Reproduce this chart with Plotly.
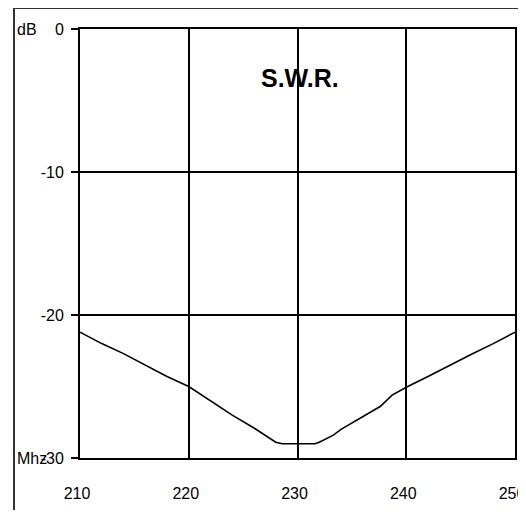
import plotly.graph_objects as go

freq_mhz = [210, 212, 214, 216, 218, 220, 222, 224, 226, 228, 228.6, 231.6, 232, 233.3, 234, 236, 237.6, 238.7, 240, 242, 244, 246, 248, 250]
swr_db = [-21.2, -22.0, -22.7, -23.5, -24.3, -25.0, -26.0, -27.0, -27.9, -28.9, -29.0, -29.0, -28.9, -28.4, -28.0, -27.1, -26.4, -25.6, -25.05, -24.3, -23.5, -22.75, -22.0, -21.2]

x_ticks = [210, 220, 230, 240, 250]
y_ticks = [0, -10, -20, -30]
y_tick_labels = ["0", "-10", "-20", "-30"]
title_text = "S.W.R."
y_unit = "dB"
x_unit = "Mhz"

# page body has an 8px margin, so the figure starts at (8, 8) in the window;
# keep the figure small enough that no scrollbars appear
OFF = 8
W, H = 526 - 2 * OFF, 518 - 2 * OFF
plot_left, plot_right, plot_top, plot_bottom = 80, 515, 29, 458
L = plot_left - OFF
R = W - (plot_right - OFF)
T = plot_top - OFF
B = H - (plot_bottom - OFF)
pw, ph = W - L - R, H - T - B

def px(x):
    return (x - OFF - L) / pw

def py(y):
    return (H - B - (y - OFF)) / ph

fig = go.Figure()
fig.add_trace(go.Scatter(x=freq_mhz, y=swr_db, mode="lines",
                         line=dict(color="black", width=1.6), hoverinfo="skip"))

font = dict(family="Liberation Sans, Arial, sans-serif", size=16, color="black")

fig.update_layout(
    width=W, height=H,
    margin=dict(l=L, r=R, t=T, b=B, autoexpand=False),
    paper_bgcolor="white", plot_bgcolor="white",
    showlegend=False,
    font=font,
    xaxis=dict(range=[210, 250], tickvals=x_ticks, ticks="", ticklabelstandoff=20,
               ticklabelshift=-3,
               ticklabeloverflow="allow", automargin=False,
               showgrid=True, gridcolor="black", gridwidth=2,
               showline=True, linecolor="black", linewidth=2, mirror=True,
               zeroline=False, fixedrange=True),
    yaxis=dict(range=[-30, 0], tickvals=y_ticks, ticktext=y_tick_labels,
               ticks="outside", ticklen=7, tickwidth=2, tickcolor="black",
               ticklabelstandoff=4, automargin=False,
               showgrid=True, gridcolor="black", gridwidth=2,
               showline=True, linecolor="black", linewidth=2, mirror=True,
               zeroline=False, fixedrange=True),
    shapes=[
        dict(type="line", xref="paper", yref="paper",
             x0=px(14), x1=px(14), y0=py(8), y1=py(540),
             line=dict(color="#333", width=2)),
        dict(type="line", xref="paper", yref="paper",
             x0=px(14), x1=px(540), y0=py(8), y1=py(8),
             line=dict(color="#333", width=2)),
    ],
    annotations=[
        dict(text="<b>" + title_text + "</b>", xref="x", yref="paper", x=230.2, y=py(78),
             showarrow=False, font=dict(family="Liberation Sans, Arial, sans-serif", size=25, color="black"),
             xanchor="center", yanchor="middle"),
        dict(text=y_unit, xref="paper", yref="y", x=px(15), y=0, showarrow=False,
             xanchor="left", yanchor="middle", font=font),
        dict(text=x_unit, xref="paper", yref="y", x=px(15), y=-30, showarrow=False,
             xanchor="left", yanchor="middle", font=font),
    ],
)

fig.write_html("out.html")
